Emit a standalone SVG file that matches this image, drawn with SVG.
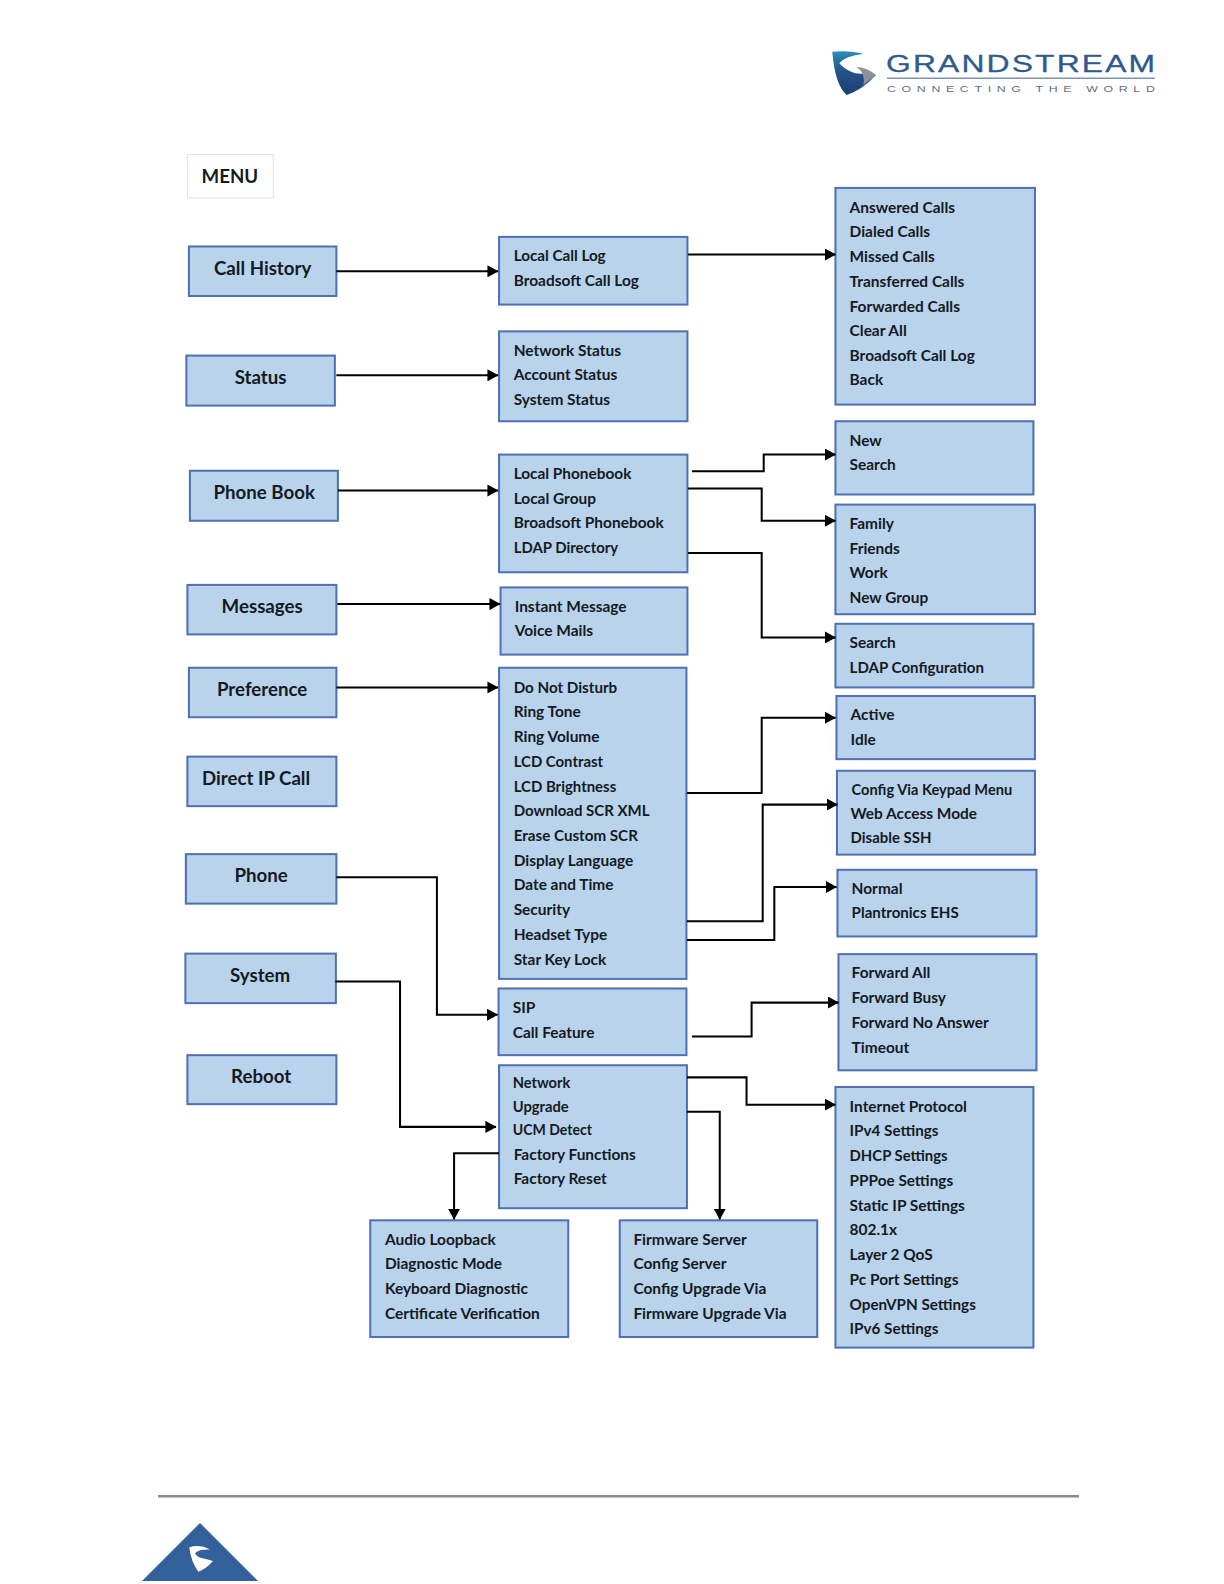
<svg xmlns="http://www.w3.org/2000/svg" width="1224" height="1584" viewBox="0 0 1224 1584">
<style>
text{font-family:"Lato","Liberation Sans",sans-serif;font-weight:700;fill:#141a22}
.b{fill:#b9d3ec;stroke:#4f71b4;stroke-width:2}
.t{font-size:15.300px}
.h{font-size:18.500px;text-anchor:middle}
.c{fill:none;stroke:#000;stroke-width:2}
</style>
<defs>
<marker id="a" markerUnits="userSpaceOnUse" markerWidth="11" markerHeight="12" refX="10.500" refY="6" orient="auto"><path d="M0 0L11 6L0 12Z" fill="#000"/></marker>
<linearGradient id="lg" x1="0" y1="0" x2="0" y2="1"><stop offset="0" stop-color="#2b8fb8"/><stop offset=".45" stop-color="#24548c"/><stop offset="1" stop-color="#1c3f72"/></linearGradient>
</defs>
<rect width="1224" height="1584" fill="#fff"/>
<g id="logo">
<path d="M832.300 51.700Q850 50 863.300 54Q845 56 839.300 63.300Q845 70 855 73.300L876 75Q862 90 846.700 95Q835 85 832.300 51.700Z" fill="url(#lg)"/>
<path d="M856.700 66.700Q868 68 876 75L863.300 85Q866 74 856.700 66.700Z" fill="#8d9094"/>
<text transform="translate(886 72) scale(1.3 1)" x="0" y="0" font-size="24.500" textLength="207" lengthAdjust="spacing" style="fill:#2f5a8e;font-weight:400;font-family:'Liberation Sans',sans-serif;stroke:#2f5a8e;stroke-width:.3">GRANDSTREAM</text>
<rect x="887" y="77.500" width="268" height="1.500" fill="#7c93b3"/>
<text transform="translate(887 92) scale(1.3 1)" x="0" y="0" font-size="9.500" textLength="206" lengthAdjust="spacing" style="fill:#5f6f80;font-weight:400;font-family:'Liberation Sans',sans-serif">CONNECTING THE WORLD</text>
</g>
<g transform="scale(1.0102)">
<g id="menu"><rect x="185.500" y="153" width="85" height="43" fill="#fff" stroke="#e2e2e2"/><text x="227.500" y="181" font-size="18.500" text-anchor="middle">MENU</text></g>
<g id="call-history"><rect class="b" x="187" y="244" width="146" height="49"/><text class="h" x="260" y="272">Call History</text></g>
<g id="status"><rect class="b" x="184.500" y="352" width="147" height="49.500"/><text class="h" x="258" y="380">Status</text></g>
<g id="phone-book"><rect class="b" x="188" y="466" width="146.500" height="49.500"/><text class="h" x="261.500" y="494">Phone Book</text></g>
<g id="messages"><rect class="b" x="185.500" y="579" width="147.500" height="49"/><text class="h" x="259.500" y="606.500">Messages</text></g>
<g id="preference"><rect class="b" x="187" y="661" width="146" height="49"/><text class="h" x="259.500" y="688.500">Preference</text></g>
<g id="direct-ip-call"><rect class="b" x="185.500" y="749" width="147.500" height="49"/><text class="h" x="253.500" y="777">Direct IP Call</text></g>
<g id="phone"><rect class="b" x="184" y="845.500" width="149" height="49"/><text class="h" x="258.500" y="873">Phone</text></g>
<g id="system"><rect class="b" x="183.500" y="944" width="149" height="49"/><text class="h" x="257.500" y="972">System</text></g>
<g id="reboot"><rect class="b" x="185.500" y="1044.500" width="147.500" height="48.500"/><text class="h" x="258.500" y="1072">Reboot</text></g>

<g id="call-log"><rect class="b" x="494" y="234.500" width="186.500" height="67"/><text class="t" x="508.500" y="258.500" textLength="91" lengthAdjust="spacingAndGlyphs">Local Call Log</text><text class="t" x="508.500" y="283">Broadsoft Call Log</text></g>
<g id="status-menu"><rect class="b" x="494" y="328" width="186.500" height="89"/><text class="t" x="508.500" y="352">Network Status</text><text class="t" x="508.500" y="376">Account Status</text><text class="t" x="508.500" y="401">System Status</text></g>
<g id="phonebook-menu"><rect class="b" x="494" y="450" width="186.500" height="116.500"/><text class="t" x="508.500" y="474" textLength="116.500" lengthAdjust="spacingAndGlyphs">Local Phonebook</text><text class="t" x="508.500" y="498.500">Local Group</text><text class="t" x="508.500" y="523">Broadsoft Phonebook</text><text class="t" x="508.500" y="547" textLength="103.500" lengthAdjust="spacingAndGlyphs">LDAP Directory</text></g>
<g id="messages-menu"><rect class="b" x="495.500" y="581.500" width="185" height="66.500"/><text class="t" x="509.500" y="606">Instant Message</text><text class="t" x="509.500" y="630">Voice Mails</text></g>
<g id="preference-menu"><rect class="b" x="494" y="661" width="185.500" height="308"/>
<text class="t" x="508.500" y="686" textLength="102.500" lengthAdjust="spacingAndGlyphs">Do Not Disturb</text><text class="t" x="508.500" y="710">Ring Tone</text><text class="t" x="508.500" y="735">Ring Volume</text><text class="t" x="508.500" y="759" textLength="88.500" lengthAdjust="spacingAndGlyphs">LCD Contrast</text><text class="t" x="508.500" y="784" textLength="101.500" lengthAdjust="spacingAndGlyphs">LCD Brightness</text><text class="t" x="508.500" y="808" textLength="134.500" lengthAdjust="spacingAndGlyphs">Download SCR XML</text><text class="t" x="508.500" y="833" textLength="123" lengthAdjust="spacingAndGlyphs">Erase Custom SCR</text><text class="t" x="508.500" y="857">Display Language</text><text class="t" x="508.500" y="881.500">Date and Time</text><text class="t" x="508.500" y="906">Security</text><text class="t" x="508.500" y="930.500">Headset Type</text><text class="t" x="508.500" y="955">Star Key Lock</text></g>
<g id="phone-menu"><rect class="b" x="493.500" y="978.500" width="186" height="66"/><text class="t" x="507.500" y="1003">SIP</text><text class="t" x="507.500" y="1027.500">Call Feature</text></g>
<g id="system-menu"><rect class="b" x="494" y="1054.500" width="186" height="141.500"/><text class="t" x="507.500" y="1077" textLength="57" lengthAdjust="spacingAndGlyphs">Network</text><text class="t" x="507.500" y="1100.500" textLength="55.500" lengthAdjust="spacingAndGlyphs">Upgrade</text><text class="t" x="507.500" y="1124" textLength="78.500" lengthAdjust="spacingAndGlyphs">UCM Detect</text><text class="t" x="508.500" y="1148">Factory Functions</text><text class="t" x="508.500" y="1172">Factory Reset</text></g>

<g id="diagnostics"><rect class="b" x="366.500" y="1208" width="196" height="115.500"/><text class="t" x="381" y="1232">Audio Loopback</text><text class="t" x="381" y="1256.500">Diagnostic Mode</text><text class="t" x="381" y="1281">Keyboard Diagnostic</text><text class="t" x="381" y="1305.500">Certificate Verification</text></g>
<g id="upgrade-menu"><rect class="b" x="613.500" y="1208" width="195.500" height="115.500"/><text class="t" x="627" y="1232">Firmware Server</text><text class="t" x="627" y="1256.500">Config Server</text><text class="t" x="627" y="1281">Config Upgrade Via</text><text class="t" x="627" y="1305.500">Firmware Upgrade Via</text></g>

<g id="calls-list"><rect class="b" x="827" y="186" width="197.500" height="214.500"/><text class="t" x="841" y="210.500">Answered Calls</text><text class="t" x="841" y="235">Dialed Calls</text><text class="t" x="841" y="259.500">Missed Calls</text><text class="t" x="841" y="284">Transferred Calls</text><text class="t" x="841" y="308.500">Forwarded Calls</text><text class="t" x="841" y="332.500">Clear All</text><text class="t" x="841" y="357.500">Broadsoft Call Log</text><text class="t" x="841" y="381.500">Back</text></g>
<g id="local-phonebook"><rect class="b" x="827" y="417" width="196" height="72.500"/><text class="t" x="841" y="441.500">New</text><text class="t" x="841" y="465.500">Search</text></g>
<g id="local-group"><rect class="b" x="827" y="499.500" width="197.500" height="108.500"/><text class="t" x="841" y="524">Family</text><text class="t" x="841" y="548">Friends</text><text class="t" x="841" y="572.500">Work</text><text class="t" x="841" y="597">New Group</text></g>
<g id="ldap"><rect class="b" x="827" y="617.500" width="196" height="63"/><text class="t" x="841" y="641.500">Search</text><text class="t" x="841" y="666" textLength="133" lengthAdjust="spacingAndGlyphs">LDAP Configuration</text></g>
<g id="lcd-status"><rect class="b" x="828" y="689" width="196.500" height="62.500"/><text class="t" x="842" y="713">Active</text><text class="t" x="842" y="737.500">Idle</text></g>
<g id="security"><rect class="b" x="828.500" y="763" width="196" height="83"/><text class="t" x="843" y="786.500" textLength="159" lengthAdjust="spacingAndGlyphs">Config Via Keypad Menu</text><text class="t" x="842" y="810.500">Web Access Mode</text><text class="t" x="842" y="834.500" textLength="80" lengthAdjust="spacingAndGlyphs">Disable SSH</text></g>
<g id="headset"><rect class="b" x="829" y="861" width="197" height="66"/><text class="t" x="843" y="885">Normal</text><text class="t" x="843" y="909" textLength="106" lengthAdjust="spacingAndGlyphs">Plantronics EHS</text></g>
<g id="call-feature"><rect class="b" x="830" y="944.500" width="196" height="115"/><text class="t" x="843" y="968.500">Forward All</text><text class="t" x="843" y="993">Forward Busy</text><text class="t" x="843" y="1017.500">Forward No Answer</text><text class="t" x="843" y="1042">Timeout</text></g>
<g id="network-menu"><rect class="b" x="827" y="1076" width="196" height="258"/><text class="t" x="841" y="1100.500">Internet Protocol</text><text class="t" x="841" y="1125" textLength="88" lengthAdjust="spacingAndGlyphs">IPv4 Settings</text><text class="t" x="841" y="1149.500" textLength="97" lengthAdjust="spacingAndGlyphs">DHCP Settings</text><text class="t" x="841" y="1174" textLength="102.500" lengthAdjust="spacingAndGlyphs">PPPoe Settings</text><text class="t" x="841" y="1198.500">Static IP Settings</text><text class="t" x="841" y="1223">802.1x</text><text class="t" x="841" y="1247.500">Layer 2 QoS</text><text class="t" x="841" y="1272">Pc Port Settings</text><text class="t" x="841" y="1296.500" textLength="125" lengthAdjust="spacingAndGlyphs">OpenVPN Settings</text><text class="t" x="841" y="1321" textLength="88" lengthAdjust="spacingAndGlyphs">IPv6 Settings</text></g>

<g id="connectors">
<path class="c" marker-end="url(#a)" d="M333 268.500H493"/>
<path class="c" marker-end="url(#a)" d="M333 371.500H493"/>
<path class="c" marker-end="url(#a)" d="M334.500 485.500H493"/>
<path class="c" marker-end="url(#a)" d="M334 598H495"/>
<path class="c" marker-end="url(#a)" d="M333 680.500H493"/>
<path class="c" marker-end="url(#a)" d="M333 868.500H432.500V1004.500H492.500"/>
<path class="c" marker-end="url(#a)" d="M332 971.500H396V1115.500H491"/>
<path class="c" marker-end="url(#a)" d="M681 252H827"/>
<path class="c" marker-end="url(#a)" d="M685 466.500H756V450H827"/>
<path class="c" marker-end="url(#a)" d="M681 483.500H754V515.500H827"/>
<path class="c" marker-end="url(#a)" d="M681 547.500H754V631H827"/>
<path class="c" marker-end="url(#a)" d="M680 785H754V710.500H827"/>
<path class="c" marker-end="url(#a)" d="M680 912H755V796.500H829"/>
<path class="c" marker-end="url(#a)" d="M680 930.500H766.500V878H828"/>
<path class="c" marker-end="url(#a)" d="M685 1026H744V992.500H830"/>
<path class="c" marker-end="url(#a)" d="M680 1066.500H739V1093.500H827"/>
<path class="c" marker-end="url(#a)" d="M680 1100.500H712.500V1207"/>
<path class="c" marker-end="url(#a)" d="M494 1141.500H449.500V1207"/>
</g>
</g>
<g id="footer">
<rect x="158" y="1495" width="921" height="2.500" fill="#8a8a8a"/>
<path d="M200 1523L258 1581H142Z" fill="#34609b"/>
<path d="M189.300 1547.300Q200 1544 210 1549.500Q198 1549 195 1553.500Q198 1558 204 1558.500L213 1561Q206 1569 198.300 1571.700Q191 1562 189.300 1547.300Z" fill="#fff"/>
</g>
</svg>
